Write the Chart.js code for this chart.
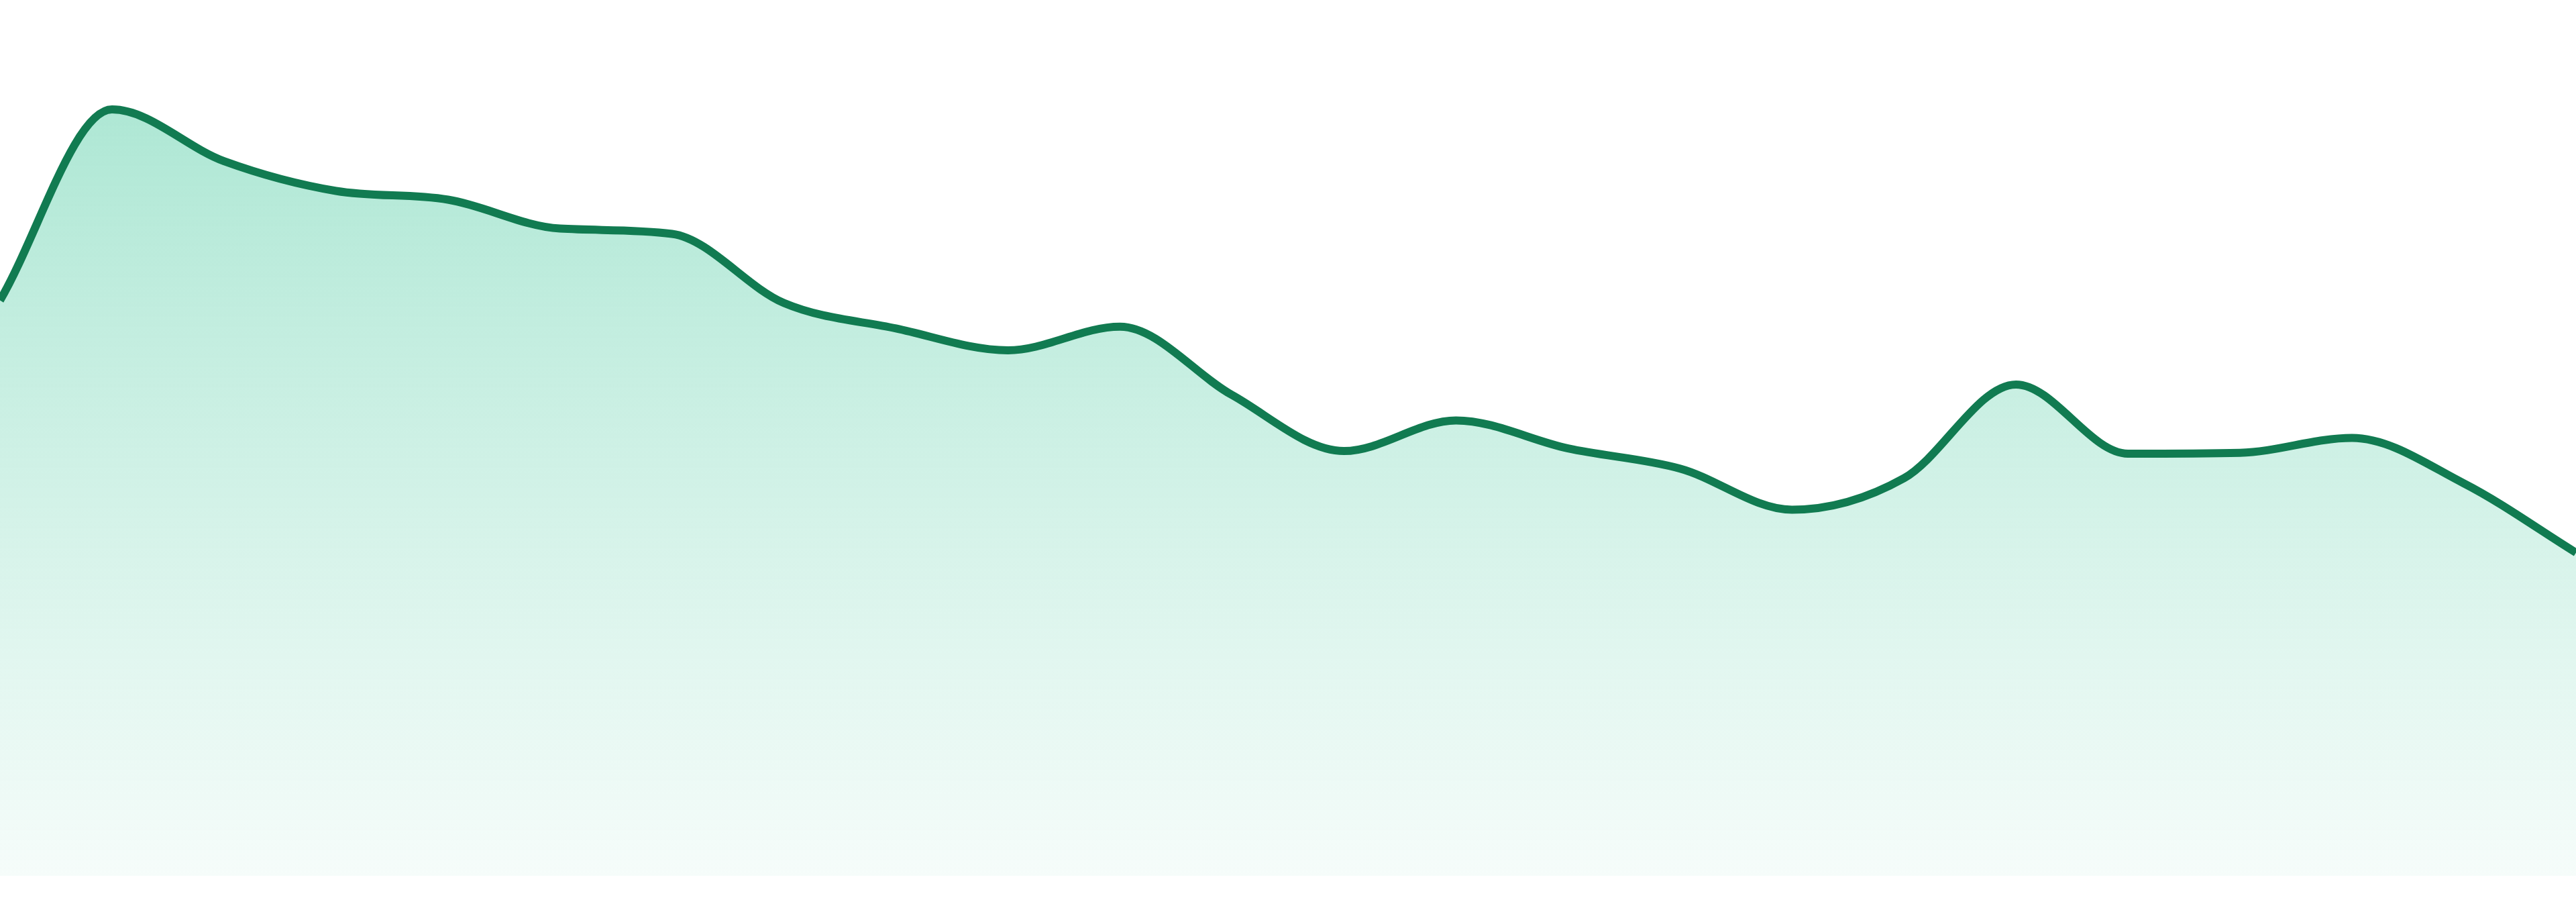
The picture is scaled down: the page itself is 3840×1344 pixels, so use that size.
<!DOCTYPE html>
<html>
<head>
<meta charset="utf-8">
<script src="https://cdn.jsdelivr.net/npm/chart.js@4/dist/chart.umd.min.js"></script>
<style>
  html, body { margin: 0; padding: 0; background: #ffffff; overflow: hidden; }
  #wrap { position: relative; width: 3840px; height: 1344px; }
</style>
</head>
<body>
<div id="wrap"><canvas id="myChart"></canvas></div>
<script>
const labels = ['1', '2', '3', '4', '5', '6', '7', '8', '9', '10', '11', '12',
                '13', '14', '15', '16', '17', '18', '19', '20', '21', '22', '23', '24']
const values = [65.7, 87.5, 81.6, 78.2, 77.2, 73.9, 73.3, 65.4, 62.5, 60.0, 62.7, 54.9,
                48.5, 52.0, 48.8, 46.5, 41.8, 45.4, 56.1, 48.2, 48.3, 50.0, 44.8, 36.9]

const ctx = document.getElementById('myChart')

function fillGradient(context) {
    const area = context.chart.chartArea
    if (!area) return 'rgba(16, 185, 129, 0.2)'
    const g = context.chart.ctx.createLinearGradient(0, area.top, 0, area.bottom)
    g.addColorStop(0, 'rgba(16, 185, 129, 0.38)')
    g.addColorStop(1, 'rgba(16, 185, 129, 0.04)')
    return g
}

const myChart = new Chart(ctx, {
    type: 'line',
    data: {
        labels: labels,
        datasets: [{
            label: 'Value',
            data: values,
            borderColor: 'rgb(17, 123, 81)',
            borderWidth: 12,
            backgroundColor: fillGradient,
            fill: 'origin',
            cubicInterpolationMode: 'monotone',
            pointRadius: 0,
            pointHoverRadius: 0
        }]
    },
    options: {
        responsive: true,
        maintainAspectRatio: false,
        devicePixelRatio: 1,
        animation: false,
        layout: {
            padding: { top: 0, left: 0, right: 0, bottom: 39 }
        },
        scales: {
            x: { display: false },
            y: { display: false, min: 0, max: 100 }
        },
        plugins: {
            legend: { display: false },
            tooltip: { enabled: false }
        }
    },
})
</script>
</body>
</html>
